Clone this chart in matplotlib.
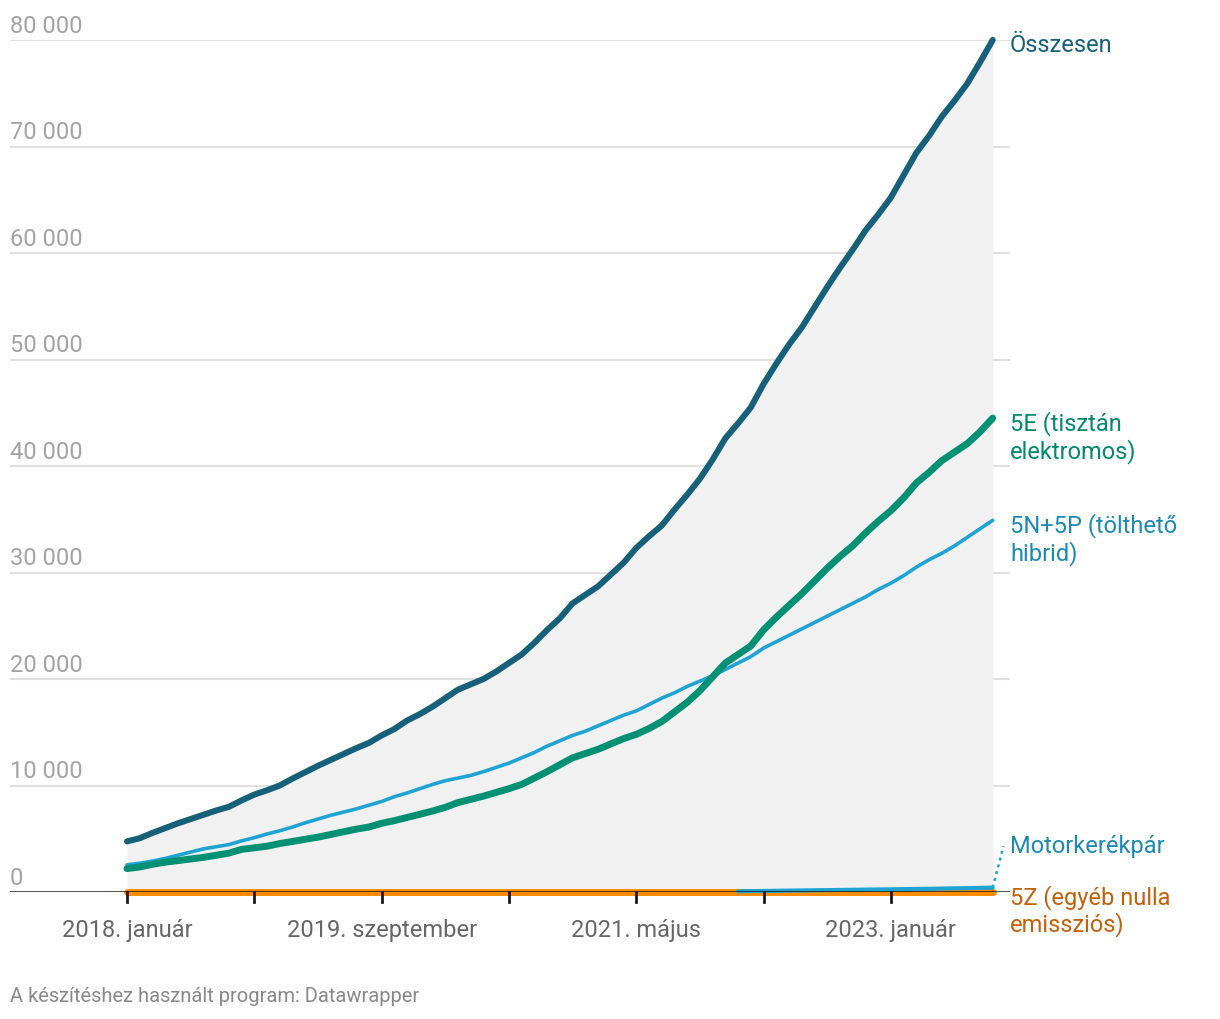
import numpy as np
import matplotlib
matplotlib.use("Agg")
from matplotlib import pyplot as plt
from matplotlib import transforms

plt.rcParams['font.family'] = ['Roboto', 'DejaVu Sans']

# monthly data, 2018 January .. 2023 September
osszesen = [4750, 5050, 5550, 6000, 6450, 6850, 7250, 7650, 8000, 8600,
            9150, 9550, 10000, 10650, 11250, 11850, 12400, 12950, 13500, 14000,
            14700, 15300, 16100, 16700, 17400, 18200, 19000, 19500, 20000, 20700,
            21500, 22300, 23400, 24600, 25700, 27100, 27900, 28700, 29800, 30900,
            32300, 33400, 34400, 35900, 37300, 38800, 40600, 42600, 44000, 45500,
            47700, 49600, 51400, 53000, 54900, 56800, 58600, 60300, 62100, 63600,
            65200, 67300, 69400, 71000, 72800, 74300, 75900, 77900, 80000]
e5 = [2200, 2350, 2600, 2800, 2950, 3100, 3250, 3450, 3650, 4000,
      4150, 4300, 4550, 4750, 4950, 5150, 5400, 5650, 5900, 6100,
      6450, 6700, 7000, 7300, 7600, 7950, 8400, 8700, 9000, 9350,
      9700, 10100, 10700, 11300, 11950, 12600, 13000, 13400, 13900, 14400,
      14800, 15350, 16000, 16900, 17800, 18900, 20200, 21500, 22300, 23100,
      24600, 25800, 26900, 28000, 29200, 30400, 31500, 32500, 33700, 34800,
      35800, 37000, 38400, 39400, 40500, 41300, 42100, 43200, 44500]
hibrid = [2550, 2700, 2900, 3150, 3450, 3750, 4050, 4250, 4450, 4800,
          5100, 5450, 5750, 6100, 6500, 6850, 7200, 7500, 7800, 8150,
          8500, 8950, 9300, 9700, 10100, 10450, 10700, 10950, 11300, 11700,
          12100, 12600, 13100, 13700, 14200, 14700, 15100, 15600, 16100, 16600,
          17000, 17600, 18200, 18700, 19300, 19800, 20300, 20900, 21500, 22100,
          22900, 23500, 24100, 24700, 25300, 25900, 26500, 27100, 27700, 28400,
          29000, 29700, 30500, 31200, 31800, 32500, 33300, 34100, 34900]
# motorcycles only from 2022 January
motor = [60, 80, 95, 110, 130, 145, 160, 175, 190, 205,
         220, 235, 250, 265, 285, 300, 320, 340, 360, 385, 410]
egyeb = [10] * 69

tick_pos = [0, 20, 40, 60]
tick_labels = ["2018. január", "2019. szeptember", "2021. május", "2023. január"]
minor_pos = [10, 30, 50]
y_ticks = [0, 10000, 20000, 30000, 40000, 50000, 60000, 70000, 80000]

c_total = '#17607a'
c_e5 = '#009073'
c_hib = '#1ea3d3'
c_hib_txt = '#1a8ab4'
c_orange = '#ff8c00'
c_orange_txt = '#c2600c'

x = np.arange(len(osszesen))
x_motor = np.arange(len(osszesen) - len(motor), len(osszesen))

fig = plt.figure(figsize=(12.2, 10.2), dpi=100)
ax = fig.add_axes([10/1220, 127/1020, 1000/1220, 852/1020])
ax.set_xlim(-9.19, 69.36)
ax.set_ylim(0, 80000)
for s in ax.spines.values():
    s.set_visible(False)
ax.set_yticks([])
ax.set_xticks([])

# grid + y labels
for v in y_ticks[1:]:
    ax.axhline(v, color='#e0e0e0', lw=1.5, zorder=0)
off = transforms.offset_copy(ax.transData, fig=fig, x=0, y=8, units='dots')
for v in y_ticks:
    ax.text(-9.19, v, f"{v:,}".replace(",", " "), transform=off, ha='left', va='baseline',
            fontsize=17, color='#a3a3a3')

ax.fill_between(x, 0, osszesen, color='#f1f1f1', lw=0, zorder=1)

ax.plot(x, egyeb, color=c_orange, lw=5, solid_capstyle='round', zorder=3, clip_on=False)
ax.plot(x_motor, motor, color=c_hib, lw=3, solid_capstyle='round', zorder=3, clip_on=False)
ax.axhline(0, color='#1a1a1a', lw=1.8, zorder=4)
ax.plot(x, hibrid, color=c_hib, lw=2.6, solid_capstyle='round', zorder=5)
ax.plot(x, e5, color=c_e5, lw=5, solid_capstyle='round', zorder=6)
ax.plot(x, osszesen, color=c_total, lw=4.4, solid_capstyle='round', zorder=7, clip_on=False)

# ticks
for p in tick_pos + minor_pos:
    ax.plot([p, p], [0, -900], color='#1a1a1a', lw=2, clip_on=False, zorder=4)
for p, lab in zip(tick_pos, tick_labels):
    ax.text(p, -3500, lab, ha='center', va='center', fontsize=17, color='#666666')

# right labels
lx = 69.36
ax.text(lx, osszesen[-1] - 400, "Összesen", ha='left', va='center', fontsize=17, color=c_total)
ax.text(lx, e5[-1] - 1700, "5E (tisztán\nelektromos)", ha='left', va='center', fontsize=17,
        color='#00896d', linespacing=1.15)
ax.text(lx, hibrid[-1] - 1700, "5N+5P (tölthető\nhibrid)", ha='left', va='center', fontsize=17,
        color=c_hib_txt, linespacing=1.15)
ax.text(lx, 4400, "Motorkerékpár", ha='left', va='center', fontsize=17, color=c_hib_txt)
ax.plot([x[-1], 68.85], [motor[-1], 4300], color=c_hib, lw=1.8, ls=(0, (1.2, 1.6)),
        clip_on=False, zorder=3)
ax.text(lx, -1700, "5Z (egyéb nulla\nemissziós)", ha='left', va='center', fontsize=17,
        color=c_orange_txt, linespacing=1.15)

fig.text(10/1220, 1 - 997/1020, "A készítéshez használt program: Datawrapper",
         ha='left', va='center', fontsize=14.5, color='#888888')

fig.savefig("out.png", dpi=100)
